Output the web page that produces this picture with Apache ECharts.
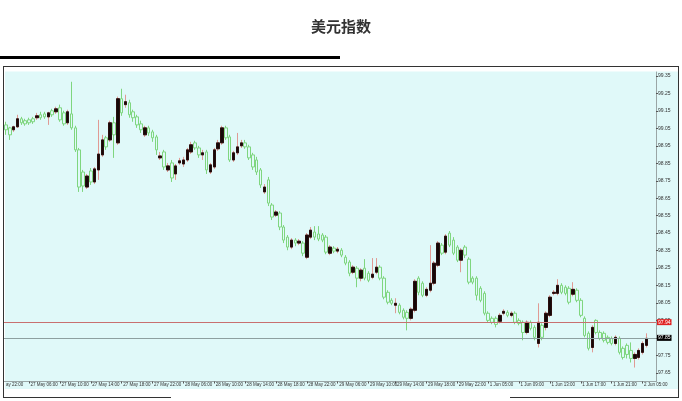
<!DOCTYPE html>
<html>
<head>
<meta charset="utf-8">
<script src="https://cdn.jsdelivr.net/npm/echarts@6/dist/echarts.min.js"></script>
<style>html,body{margin:0;padding:0;background:#fff}#c{width:682px;height:401px}</style>
</head>
<body>
<div id="c"></div>
<script>
// [open, close, low, high] per 30-minute bar
var candles = [
[99.070,99.042,99.013,99.088],[99.053,99.013,98.984,99.059],[99.042,99.059,99.030,99.065],[99.059,99.105,99.053,99.128],
[99.105,99.082,99.070,99.116],[99.094,99.076,99.065,99.105],[99.099,99.082,99.070,99.111],[99.105,99.088,99.076,99.116],
[99.111,99.122,99.099,99.139],[99.128,99.111,99.099,99.145],[99.133,99.116,99.105,99.145],[99.116,99.139,99.070,99.145],
[99.151,99.128,99.116,99.162],[99.145,99.162,99.133,99.174],[99.168,99.099,99.088,99.186],[99.139,99.076,99.065,99.151],
[99.082,99.145,99.070,99.157],[99.133,99.053,99.042,99.317],[99.053,98.927,98.915,99.065],[98.927,98.714,98.686,98.938],
[98.800,98.720,98.686,98.812],[98.714,98.777,98.703,98.789],[98.806,98.743,98.726,98.823],[98.743,98.818,98.731,98.829],
[98.812,98.903,98.755,99.099],[98.898,98.984,98.887,99.013],[98.996,98.944,98.927,99.007],[98.984,99.082,98.973,99.094],
[99.082,99.013,98.881,99.116],[98.967,99.220,98.956,99.232],[99.220,99.139,99.122,99.277],[99.186,99.203,99.168,99.243],
[99.197,99.128,99.111,99.214],[99.145,99.111,99.088,99.157],[99.116,99.070,99.053,99.128],[99.076,99.042,99.024,99.094],
[99.013,99.053,99.001,99.065],[99.053,99.024,99.007,99.065],[99.030,98.996,98.973,99.042],[99.001,98.927,98.898,99.013],
[98.881,98.892,98.869,98.915],[98.915,98.829,98.812,98.927],[98.812,98.835,98.800,98.852],[98.852,98.766,98.743,98.869],
[98.789,98.835,98.755,98.846],[98.852,98.864,98.841,98.881],[98.846,98.869,98.829,98.887],[98.869,98.927,98.858,98.938],
[98.915,98.956,98.904,98.973],[98.967,98.938,98.927,98.979],[98.938,98.898,98.881,98.950],[98.898,98.910,98.869,98.927],
[98.915,98.812,98.789,98.927],[98.800,98.841,98.789,98.852],[98.829,98.927,98.818,98.938],[98.933,98.967,98.921,98.984],
[98.967,99.053,98.956,99.065],[99.053,98.996,98.984,99.065],[99.001,98.869,98.858,99.013],[98.869,98.910,98.858,98.921],
[98.910,98.944,98.898,99.024],[98.950,98.967,98.938,98.984],[98.967,98.944,98.933,98.984],[98.944,98.881,98.869,98.956],
[98.898,98.829,98.812,98.910],[98.869,98.800,98.783,98.887],[98.812,98.726,98.709,98.823],[98.686,98.714,98.674,98.731],
[98.755,98.622,98.605,98.772],[98.611,98.542,98.525,98.622],[98.553,98.571,98.542,98.582],[98.565,98.485,98.467,98.576],
[98.485,98.410,98.393,98.496],[98.427,98.370,98.352,98.439],[98.370,98.410,98.358,98.421],[98.410,98.393,98.375,98.421],
[98.393,98.404,98.381,98.416],[98.393,98.335,98.318,98.404],[98.312,98.439,98.301,98.450],[98.427,98.467,98.416,98.485],
[98.456,98.427,98.410,98.490],[98.445,98.416,98.404,98.490],[98.439,98.410,98.398,98.450],[98.427,98.341,98.329,98.439],
[98.335,98.370,98.324,98.381],[98.364,98.347,98.335,98.375],[98.347,98.358,98.335,98.370],[98.352,98.324,98.312,98.364],
[98.312,98.278,98.266,98.324],[98.284,98.220,98.203,98.295],[98.226,98.255,98.215,98.266],[98.249,98.192,98.140,98.261],
[98.192,98.238,98.174,98.249],[98.249,98.192,98.180,98.301],[98.220,98.180,98.169,98.232],[98.197,98.215,98.186,98.307],
[98.226,98.255,98.215,98.307],[98.255,98.192,98.180,98.266],[98.192,98.083,98.071,98.203],[98.111,98.054,98.042,98.123],
[98.065,98.048,98.037,98.077],[98.037,98.048,97.991,98.077],[98.037,97.996,97.985,98.048],[98.008,97.968,97.956,98.019],
[97.996,97.962,97.893,98.008],[97.962,98.014,97.950,98.025],[98.008,98.174,97.996,98.186],[98.192,98.111,98.094,98.203],
[98.163,98.094,98.083,98.174],[98.094,98.128,98.083,98.140],[98.123,98.163,98.111,98.381],[98.163,98.278,98.151,98.290],
[98.266,98.393,98.255,98.404],[98.381,98.335,98.324,98.393],[98.341,98.433,98.329,98.444],[98.450,98.381,98.370,98.462],
[98.410,98.335,98.324,98.427],[98.370,98.295,98.284,98.381],[98.295,98.352,98.226,98.364],[98.370,98.324,98.307,98.381],
[98.301,98.169,98.157,98.312],[98.192,98.169,98.157,98.203],[98.192,98.094,98.065,98.203],[98.134,98.065,98.054,98.146],
[98.105,97.991,97.979,98.117],[97.991,97.950,97.939,98.002],[97.962,97.939,97.928,97.973],[97.962,97.927,97.910,97.973],
[97.945,97.979,97.933,97.991],[97.991,98.002,97.979,98.014],[97.996,97.979,97.968,98.008],[97.979,97.991,97.968,98.002],
[97.991,97.939,97.928,98.002],[97.950,97.933,97.922,97.962],[97.939,97.881,97.836,97.950],[97.881,97.939,97.870,97.950],
[97.939,97.904,97.893,97.950],[97.910,97.853,97.836,97.922],[97.818,97.939,97.795,98.048],[97.922,97.853,97.836,97.933],
[97.910,97.991,97.893,98.002],[97.979,98.083,97.968,98.094],[98.105,98.111,98.094,98.123],[98.105,98.151,98.094,98.186],
[98.151,98.111,98.100,98.163],[98.140,98.105,98.094,98.151],[98.134,98.054,98.042,98.146],[98.100,98.128,98.088,98.169],
[98.123,98.065,98.054,98.134],[98.065,97.979,97.968,98.077],[97.962,97.864,97.853,97.973],[97.876,97.790,97.778,97.887],
[97.795,97.910,97.767,97.922],[97.950,97.881,97.870,97.956],[97.881,97.847,97.836,97.893],[97.876,97.836,97.824,97.887],
[97.853,97.824,97.813,97.864],[97.847,97.818,97.807,97.858],[97.818,97.853,97.807,97.864],[97.847,97.767,97.755,97.858],
[97.790,97.738,97.726,97.801],[97.807,97.755,97.732,97.818],[97.778,97.732,97.709,97.824],[97.732,97.755,97.680,97.767],
[97.738,97.778,97.726,97.790],[97.767,97.818,97.755,97.830],[97.807,97.847,97.795,97.876]
];
var barSlots = 169; // candles plus the empty right margin of the chart
var tickIndex = [6,14,22,30,38,46,54,62,70,78,86,94,101,109,117,125,133,141,149,157,165];
var tickLabels = ["27 May 06:00","27 May 10:00","27 May 14:00","27 May 18:00","27 May 22:00","28 May 06:00","28 May 10:00","28 May 14:00","28 May 18:00","28 May 22:00","29 May 06:00","29 May 10:00","29 May 14:00","29 May 18:00","29 May 22:00","1 Jun 05:00","1 Jun 09:00","1 Jun 13:00","1 Jun 17:00","1 Jun 21:00","2 Jun 05:00"];
var firstLabelCut = "ay 22:00";
var priceTicks = [97.65,97.75,97.85,97.95,98.05,98.15,98.25,98.35,98.45,98.55,98.65,98.75,98.85,98.95,99.05,99.15,99.25,99.35];
var askLevel = 97.94;
var bidLevel = 97.85;

var cats = [];
for (var i = 0; i < barSlots; i++) cats.push(String(i));
var bodies = candles.map(function (d) { return [d[0], d[1], Math.min(d[0], d[1]), Math.max(d[0], d[1])]; });

var BG = '#e0f9f9';
var XFONT = 4.5;
var chart = echarts.init(document.getElementById('c'));
chart.setOption({
  animation: false,
  title: {
    text: '美元指数', left: 'center', top: 14,
    textStyle: { fontSize: 15, fontWeight: 'bold', color: '#333', fontFamily: 'Noto Sans CJK SC' }
  },
  graphic: [
    { type: 'rect', z: -10, shape: { x: 5, y: 71.5, width: 673, height: 317.5 }, style: { fill: BG } },
    { type: 'rect', z: 10, shape: { x: 0, y: 56, width: 340, height: 3 }, style: { fill: '#000' } },
    { type: 'line', z: 10, shape: { x1: 3, y1: 66.5, x2: 679, y2: 66.5 }, style: { stroke: '#333', lineWidth: 1 } },
    { type: 'line', z: 10, shape: { x1: 3.5, y1: 66, x2: 3.5, y2: 398 }, style: { stroke: '#333', lineWidth: 1 } },
    { type: 'line', z: 10, shape: { x1: 678.5, y1: 66, x2: 678.5, y2: 398 }, style: { stroke: '#333', lineWidth: 1 } },
    { type: 'line', z: 10, shape: { x1: 3, y1: 397.5, x2: 171, y2: 397.5 }, style: { stroke: '#333', lineWidth: 1 } },
    { type: 'line', z: 10, shape: { x1: 510, y1: 397.5, x2: 679, y2: 397.5 }, style: { stroke: '#333', lineWidth: 1 } },
    { type: 'text', z: 10, x: 6, y: 384.5, style: { text: firstLabelCut, fontSize: XFONT, fill: '#333', fontFamily: 'Liberation Sans', verticalAlign: 'middle' } }
  ],
  grid: { left: 4, right: 26, top: 72, bottom: 19.5 },
  xAxis: {
    type: 'category', data: cats, boundaryGap: true,
    axisLine: { show: true, lineStyle: { color: '#9aa6a6', width: 1 } },
    axisTick: {
      show: true, alignWithLabel: true, length: 2,
      interval: function (idx) { return tickIndex.indexOf(idx) >= 0; },
      lineStyle: { color: '#555' }
    },
    axisLabel: {
      interval: function (idx) { return tickIndex.indexOf(idx) >= 0; },
      formatter: function (v, idx) { var p = tickIndex.indexOf(Number(v)); return p >= 0 ? tickLabels[p] : ''; },
      align: 'left', margin: 1, padding: [0, 0, 0, 1.5], fontSize: XFONT, color: '#333', fontFamily: 'Liberation Sans'
    },
    splitLine: { show: false }
  },
  yAxis: {
    type: 'value', position: 'right', min: 97.6, max: 99.373, scale: true,
    axisLine: { show: true, lineStyle: { color: '#9aa6a6', width: 1 } },
    axisTick: { show: true, length: 2, customValues: priceTicks, lineStyle: { color: '#555' } },
    axisLabel: {
      customValues: priceTicks, margin: 2, fontSize: 5, color: '#333', fontFamily: 'Liberation Sans',
      formatter: function (v) { return v.toFixed(2); }
    },
    splitLine: { show: false }
  },
  series: [
    {
      type: 'candlestick', data: candles, barWidth: 3,
      itemStyle: { color: '#140808', color0: BG, borderColor: '#e09a94', borderColor0: '#7fd67f', borderWidth: 1 },
      markLine: {
        silent: true, symbol: ['none', 'none'], animation: false,
        data: [
          { yAxis: askLevel, lineStyle: { color: '#c87070', width: 1, type: 'solid' },
            label: { position: 'end', distance: 1, formatter: function (p) { return p.value.toFixed(2); }, color: '#fff', backgroundColor: '#e02222', padding: [1, 1, 0, 1], fontSize: 5, fontFamily: 'Liberation Sans' } },
          { yAxis: bidLevel, lineStyle: { color: '#8ea0a0', width: 1, type: 'solid' },
            label: { position: 'end', distance: 1, formatter: function (p) { return p.value.toFixed(2); }, color: '#fff', backgroundColor: '#000', padding: [1, 1, 0, 1], fontSize: 5, fontFamily: 'Liberation Sans' } }
        ]
      }
    },
    {
      type: 'candlestick', data: bodies, barWidth: 3, silent: true,
      itemStyle: { color: '#140808', color0: 'rgba(0,0,0,0)', borderColor: '#2a0e0e', borderColor0: 'rgba(0,0,0,0)', borderWidth: 1 }
    }
  ]
});
</script>
</body>
</html>
